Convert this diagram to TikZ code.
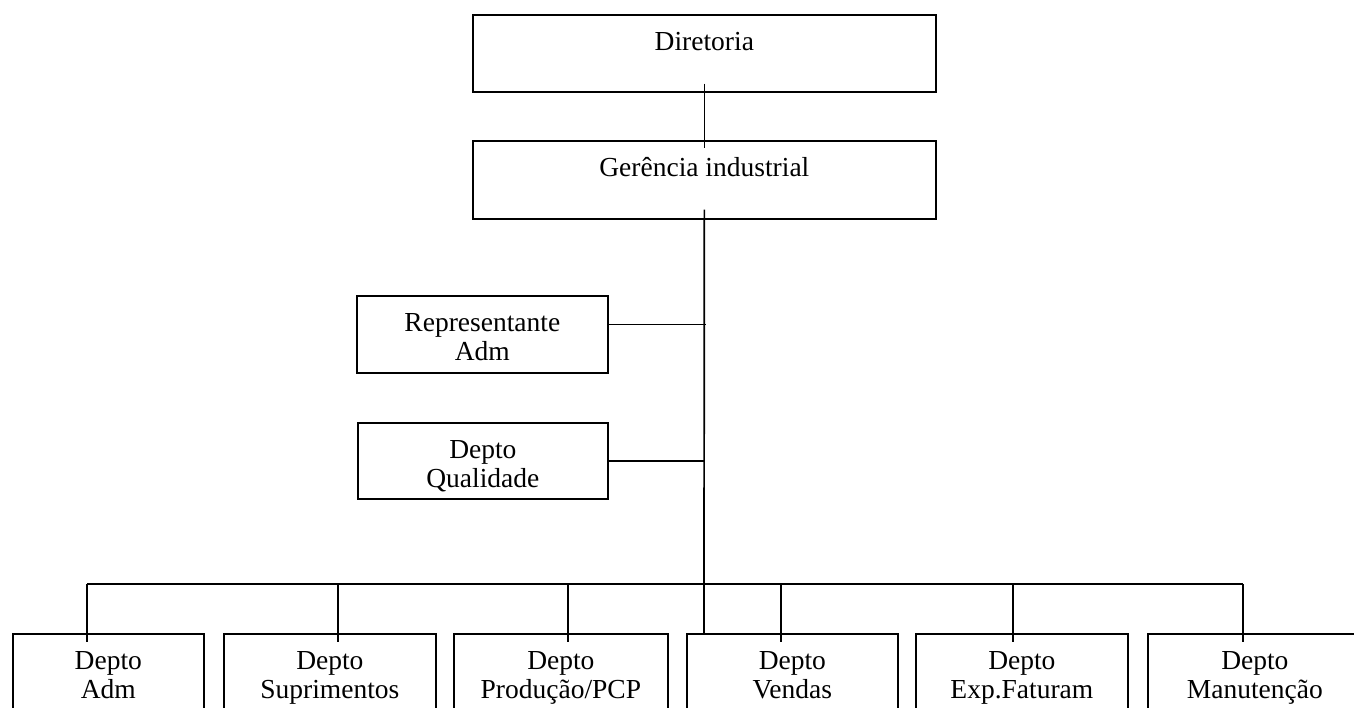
\documentclass[tikz,border=0pt]{standalone}
\usepackage{fontspec}
\setmainfont{Liberation Serif}
\newcommand{\bxt}[3]{\parbox[t][#2][t]{#1}{\centering\fontsize{27.5}{29}\selectfont\rule{0pt}{36pt}#3}}
\begin{document}
\begin{tikzpicture}[x=1pt,y=-1pt,
  box/.style={draw, line width=1.7pt, inner sep=0pt, anchor=north west},
  conn/.style={line width=1.7pt}]
\useasboundingbox (0,0) rectangle (1354,707);
\clip (0,0) rectangle (1354,707);
\node[box] (dir) at (472,14) {\bxt{463pt}{77pt}{Diretoria}};
\node[box] (ger) at (472,140) {\bxt{463pt}{78pt}{Gerência industrial}};
\node[box] (rep) at (356,295) {\bxt{251pt}{77pt}{Representante\\Adm}};
\node[box] (qual) at (357,422) {\bxt{250pt}{76pt}{Depto\\Qualidade}};
\node[box] (b1) at (12,633) {\bxt{191pt}{100pt}{Depto\\Adm}};
\node[box] (b2) at (223,633) {\bxt{212pt}{100pt}{Depto\\Suprimentos}};
\node[box] (b3) at (453,633) {\bxt{214pt}{100pt}{Depto\\Produção/PCP}};
\node[box] (b4) at (686,633) {\bxt{211pt}{100pt}{Depto\\Vendas}};
\node[box] (b5) at (915,633) {\bxt{212pt}{100pt}{Depto\\Exp.Faturam}};
\node[box] (b6) at (1147,633) {\bxt{214pt}{100pt}{Depto\\Manutenção}};
% connectors
\draw[conn] ([yshift=9pt]dir.south) -- ([yshift=-8pt]ger.north);
\coordinate (bus) at (704,584);
\draw[conn] ([yshift=10pt]ger.south) -- (bus) -- (bus |- b4.north);
\draw[conn] ([yshift=10pt]rep.east) -- ++(97,0);
\draw[conn] (qual.east) -- (qual.east -| bus);
\coordinate (d1) at (87,584);
\coordinate (d2) at (338,584);
\coordinate (d3) at (568,584);
\coordinate (d4) at (781,584);
\coordinate (d5) at (1013,584);
\coordinate (d6) at (1243,584);
\draw[conn] (d1) -- (d6);
\draw[conn] (d1) -- ([yshift=-9pt]d1 |- b1.north);
\draw[conn] (d2) -- ([yshift=-9pt]d2 |- b2.north);
\draw[conn] (d3) -- ([yshift=-9pt]d3 |- b3.north);
\draw[conn] (d4) -- ([yshift=-9pt]d4 |- b4.north);
\draw[conn] (d5) -- ([yshift=-9pt]d5 |- b5.north);
\draw[conn] (d6) -- ([yshift=-9pt]d6 |- b6.north);
\end{tikzpicture}
\end{document}
